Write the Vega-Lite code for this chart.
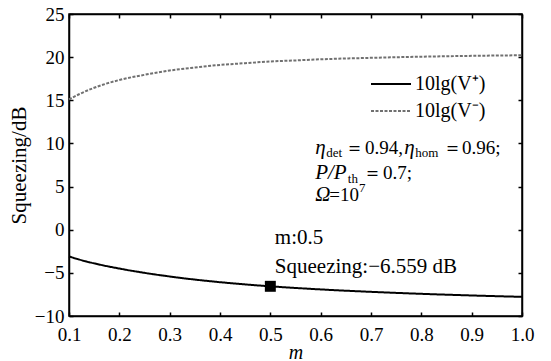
{
  "$schema": "https://vega.github.io/schema/vega-lite/v6.json",
  "width": 453,
  "height": 302,
  "autosize": {"type": "none"},
  "padding": {"left": 69, "top": 14, "right": 29, "bottom": 45},
  "background": "white",
  "config": {
    "font": "Liberation Serif, serif",
    "view": {"stroke": "black", "strokeWidth": 1.5},
    "axis": {
      "domainColor": "black", "domainWidth": 1.5, "tickColor": "black", "tickWidth": 1.5,
      "grid": false, "labelFont": "Liberation Serif, serif", "labelFontSize": 19, "labelColor": "black",
      "titleFont": "Liberation Serif, serif", "titleColor": "black", "titleFontWeight": "normal"
    },
    "legend": {"labelFont": "Liberation Serif, serif"}
  },
  "datasets": {
    "curves": [
      {"m": 0.10, "v": -3.10, "s": "10lg(V⁺)"},
      {"m": 0.12, "v": -3.45, "s": "10lg(V⁺)"},
      {"m": 0.15, "v": -3.90, "s": "10lg(V⁺)"},
      {"m": 0.20, "v": -4.50, "s": "10lg(V⁺)"},
      {"m": 0.25, "v": -5.00, "s": "10lg(V⁺)"},
      {"m": 0.30, "v": -5.42, "s": "10lg(V⁺)"},
      {"m": 0.35, "v": -5.78, "s": "10lg(V⁺)"},
      {"m": 0.40, "v": -6.08, "s": "10lg(V⁺)"},
      {"m": 0.45, "v": -6.34, "s": "10lg(V⁺)"},
      {"m": 0.50, "v": -6.56, "s": "10lg(V⁺)"},
      {"m": 0.55, "v": -6.75, "s": "10lg(V⁺)"},
      {"m": 0.60, "v": -6.92, "s": "10lg(V⁺)"},
      {"m": 0.70, "v": -7.20, "s": "10lg(V⁺)"},
      {"m": 0.80, "v": -7.43, "s": "10lg(V⁺)"},
      {"m": 0.90, "v": -7.62, "s": "10lg(V⁺)"},
      {"m": 1.00, "v": -7.78, "s": "10lg(V⁺)"},
      {"m": 0.10, "v": 15.10, "s": "10lg(V⁻)"},
      {"m": 0.12, "v": 15.70, "s": "10lg(V⁻)"},
      {"m": 0.15, "v": 16.45, "s": "10lg(V⁻)"},
      {"m": 0.20, "v": 17.35, "s": "10lg(V⁻)"},
      {"m": 0.25, "v": 17.95, "s": "10lg(V⁻)"},
      {"m": 0.30, "v": 18.45, "s": "10lg(V⁻)"},
      {"m": 0.35, "v": 18.80, "s": "10lg(V⁻)"},
      {"m": 0.40, "v": 19.10, "s": "10lg(V⁻)"},
      {"m": 0.45, "v": 19.30, "s": "10lg(V⁻)"},
      {"m": 0.50, "v": 19.50, "s": "10lg(V⁻)"},
      {"m": 0.55, "v": 19.62, "s": "10lg(V⁻)"},
      {"m": 0.60, "v": 19.75, "s": "10lg(V⁻)"},
      {"m": 0.70, "v": 19.92, "s": "10lg(V⁻)"},
      {"m": 0.80, "v": 20.05, "s": "10lg(V⁻)"},
      {"m": 0.90, "v": 20.15, "s": "10lg(V⁻)"},
      {"m": 1.00, "v": 20.22, "s": "10lg(V⁻)"}
    ],
    "marker": [{"m": 0.5, "v": -6.559}],
    "notes": [
      {"x": 0.589, "y": 9.47, "t": "η", "k": "ital"},
      {"x": 0.611, "y": 8.89, "t": "det", "k": "sub"},
      {"x": 0.648, "y": 9.47, "t": "＝", "k": "norm"},
      {"x": 0.688, "y": 9.47, "t": "0.94,", "k": "norm"},
      {"x": 0.766, "y": 9.47, "t": "η", "k": "ital"},
      {"x": 0.788, "y": 8.89, "t": "hom", "k": "sub"},
      {"x": 0.843, "y": 9.47, "t": "＝", "k": "norm"},
      {"x": 0.881, "y": 9.47, "t": "0.96;", "k": "norm"},
      {"x": 0.589, "y": 6.57, "t": "P/P", "k": "ital"},
      {"x": 0.654, "y": 5.85, "t": "th", "k": "sub"},
      {"x": 0.684, "y": 6.57, "t": "＝", "k": "norm"},
      {"x": 0.724, "y": 6.57, "t": "0.7;", "k": "norm"},
      {"x": 0.589, "y": 4.02, "t": "Ω", "k": "ital"},
      {"x": 0.617, "y": 4.02, "t": "=10", "k": "norm"},
      {"x": 0.676, "y": 4.80, "t": "7", "k": "sub"},
      {"x": 0.509, "y": -0.96, "t": "m:0.5", "k": "big"},
      {"x": 0.509, "y": -4.32, "t": "Squeezing:−6.559 dB", "k": "big"}
    ]
  },
  "layer": [
    {
      "data": {"name": "curves"},
      "mark": {"type": "line", "strokeWidth": 2, "interpolate": "monotone"},
      "encoding": {
        "x": {"field": "m", "type": "quantitative",
              "scale": {"domain": [0.1, 1.0], "nice": false, "zero": false},
              "axis": {"orient": "bottom", "values": [0.1,0.2,0.3,0.4,0.5,0.6,0.7,0.8,0.9,1.0], "format": ".1f",
                       "ticks": false, "domain": false, "labelPadding": 9, "title": "m", "titleFontStyle": "italic",
                       "titleFontSize": 20, "titlePadding": -2, "labelFlush": false}},
        "y": {"field": "v", "type": "quantitative",
              "scale": {"domain": [-10, 25], "nice": false, "zero": false},
              "axis": {"orient": "left", "values": [-10,-5,0,5,10,15,20,25], "ticks": false, "domain": false, "labelPadding": 5,
                       "title": "Squeezing/dB", "titleFontSize": 21, "titlePadding": 5, "labelFlush": false}},
        "color": {"field": "s", "type": "nominal",
                  "scale": {"domain": ["10lg(V⁺)", "10lg(V⁻)"], "range": ["black", "#707070"]},
                  "legend": {"title": null, "orient": "none", "legendX": 301, "legendY": 59,
                             "symbolType": "stroke", "symbolSize": 1600, "symbolStrokeWidth": 2, "clipHeight": 22,
                             "labelFontSize": 20, "labelColor": "black", "rowPadding": 5, "labelOffset": 3}},
        "strokeDash": {"field": "s", "type": "nominal",
                       "scale": {"domain": ["10lg(V⁺)", "10lg(V⁻)"], "range": [[1, 0], [3, 1.5]]},
                       "legend": {"title": null, "orient": "none", "legendX": 301, "legendY": 59,
                                  "symbolType": "stroke", "symbolSize": 1600, "symbolStrokeWidth": 2, "clipHeight": 22,
                                  "labelFontSize": 20, "labelColor": "black", "rowPadding": 5, "labelOffset": 3}}
      }
    },
    {
      "data": {"name": "curves"},
      "mark": {"type": "point", "opacity": 0},
      "encoding": {
        "x": {"field": "m", "type": "quantitative",
              "axis": {"orient": "bottom", "values": [0.1,0.2,0.3,0.4,0.5,0.6,0.7,0.8,0.9,1.0], "labels": false,
                       "tickSize": -4, "title": null}},
        "y": {"field": "v", "type": "quantitative",
              "axis": {"orient": "left", "values": [-10,-5,0,5,10,15,20,25], "labels": false,
                       "tickSize": -4, "title": null}}
      }
    },
    {
      "data": {"name": "curves"},
      "mark": {"type": "point", "opacity": 0},
      "encoding": {
        "x": {"field": "m", "type": "quantitative",
              "axis": {"orient": "top", "values": [0.1,0.2,0.3,0.4,0.5,0.6,0.7,0.8,0.9,1.0], "labels": false,
                       "tickSize": -4, "title": null}},
        "y": {"field": "v", "type": "quantitative",
              "axis": {"orient": "right", "values": [-10,-5,0,5,10,15,20,25], "labels": false,
                       "tickSize": -4, "title": null}}
      }
    },
    {
      "data": {"name": "marker"},
      "mark": {"type": "point", "shape": "square", "filled": true, "color": "black", "size": 120, "opacity": 1},
      "encoding": {
        "x": {"field": "m", "type": "quantitative", "axis": null},
        "y": {"field": "v", "type": "quantitative", "axis": null}
      }
    },
    {
      "data": {"name": "notes"},
      "transform": [{"filter": "datum.k === 'norm'"}],
      "mark": {"type": "text", "align": "left", "baseline": "middle", "fontSize": 19, "color": "black"},
      "encoding": {
        "x": {"field": "x", "type": "quantitative", "axis": null},
        "y": {"field": "y", "type": "quantitative", "axis": null},
        "text": {"field": "t"}
      }
    },
    {
      "data": {"name": "notes"},
      "transform": [{"filter": "datum.k === 'big'"}],
      "mark": {"type": "text", "align": "left", "baseline": "middle", "fontSize": 21, "color": "black"},
      "encoding": {
        "x": {"field": "x", "type": "quantitative", "axis": null},
        "y": {"field": "y", "type": "quantitative", "axis": null},
        "text": {"field": "t"}
      }
    },
    {
      "data": {"name": "notes"},
      "transform": [{"filter": "datum.k === 'ital'"}],
      "mark": {"type": "text", "align": "left", "baseline": "middle", "fontSize": 21, "fontStyle": "italic", "color": "black"},
      "encoding": {
        "x": {"field": "x", "type": "quantitative", "axis": null},
        "y": {"field": "y", "type": "quantitative", "axis": null},
        "text": {"field": "t"}
      }
    },
    {
      "data": {"name": "notes"},
      "transform": [{"filter": "datum.k === 'sub'"}],
      "mark": {"type": "text", "align": "left", "baseline": "middle", "fontSize": 13, "color": "black"},
      "encoding": {
        "x": {"field": "x", "type": "quantitative", "axis": null},
        "y": {"field": "y", "type": "quantitative", "axis": null},
        "text": {"field": "t"}
      }
    }
  ],
  "resolve": {"axis": {"x": "independent", "y": "independent"}}
}
